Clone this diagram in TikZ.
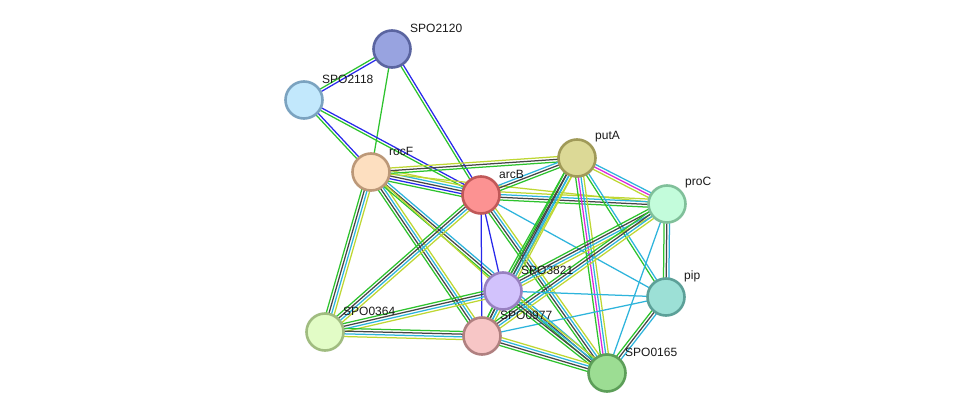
\documentclass[tikz,border=0pt]{standalone}
\usepackage{fontspec}
\setmainfont{Liberation Sans}
\usetikzlibrary{calc,backgrounds}
\definecolor{cG}{RGB}{45,195,45}
\definecolor{cB}{RGB}{40,40,235}
\definecolor{cD}{RGB}{70,70,70}
\definecolor{cM}{RGB}{220,40,220}
\definecolor{cC}{RGB}{45,180,220}
\definecolor{cY}{RGB}{190,215,50}
\tikzset{
  eG/.style={draw=cG,line width=1.25pt},
  eB/.style={draw=cB,line width=1.25pt},
  eD/.style={draw=cD,line width=1.25pt},
  eM/.style={draw=cM,line width=1.25pt},
  eC/.style={draw=cC,line width=1.25pt},
  eY/.style={draw=cY,line width=1.25pt},
  prot/.style={circle,minimum size=37pt,inner sep=0pt,line width=2.6pt},
  lab/.style={anchor=west,inner sep=0pt,font=\fontsize{12}{14}\selectfont,text=black!90}
}
\newcommand\sedge[3]{%
  \gdef\nn{0}%
  \foreach \cc in {#3}{\xdef\nn{\the\numexpr\nn+1\relax}}%
  \foreach \cc [count=\ii] in {#3}{%
    \pgfmathsetmacro\oo{(\ii-1-(\nn-1)/2)*2.7}%
    \draw[e\cc] ($(#1)!\oo pt!90:(#2)$) -- ($(#2)!\oo pt!-90:(#1)$);
  }}
\begin{document}
\begin{tikzpicture}[x=1pt,y=-1pt]
\useasboundingbox (0,0) rectangle (975,419);
\node[prot,fill={rgb,255:red,152;green,163;blue,224},draw={rgb,255:red,90;green,100;blue,160}] (SPO2120) at (392,49) {};
\node[prot,fill={rgb,255:red,194;green,232;blue,252},draw={rgb,255:red,123;green,163;blue,192}] (SPO2118) at (304,100) {};
\node[prot,fill={rgb,255:red,253;green,223;blue,192},draw={rgb,255:red,188;green,152;blue,120}] (rocF) at (371,172) {};
\node[prot,fill={rgb,255:red,252;green,146;blue,146},draw={rgb,255:red,192;green,88;blue,88}] (arcB) at (481,195) {};
\node[prot,fill={rgb,255:red,220;green,217;blue,150},draw={rgb,255:red,160;green,154;blue,88}] (putA) at (577,158) {};
\node[prot,fill={rgb,255:red,195;green,252;blue,219},draw={rgb,255:red,128;green,192;blue,154}] (proC) at (667,204) {};
\node[prot,fill={rgb,255:red,156;green,224;blue,214},draw={rgb,255:red,92;green,160;blue,152}] (pip) at (666,297) {};
\node[prot,fill={rgb,255:red,210;green,194;blue,252},draw={rgb,255:red,152;green,128;blue,192}] (SPO3821) at (503,291) {};
\node[prot,fill={rgb,255:red,247;green,198;blue,198},draw={rgb,255:red,176;green,128;blue,128}] (SPO0977) at (482,336) {};
\node[prot,fill={rgb,255:red,226;green,252;blue,198},draw={rgb,255:red,160;green,188;blue,128}] (SPO0364) at (325,332) {};
\node[prot,fill={rgb,255:red,156;green,221;blue,147},draw={rgb,255:red,92;green,158;blue,88}] (SPO0165) at (607,373) {};
\begin{pgfonlayer}{background}
\fill[white] (0,0) rectangle (975,419);
\sedge{SPO2120}{SPO2118}{G,B}
\sedge{SPO2120}{rocF}{G}
\sedge{SPO2120}{arcB}{G,B}
\sedge{SPO2118}{rocF}{G,B}
\sedge{SPO2118}{arcB}{G,B}
\sedge{rocF}{arcB}{G,B,D,C,Y}
\sedge{rocF}{putA}{G,D,Y}
\sedge{rocF}{proC}{Y}
\sedge{rocF}{SPO0364}{G,D,C,Y}
\sedge{rocF}{SPO0977}{G,D,C,Y}
\sedge{rocF}{SPO0165}{G,D,C}
\sedge{rocF}{SPO3821}{Y}
\sedge{arcB}{putA}{G,D,C}
\sedge{arcB}{proC}{G,D,C,Y}
\sedge{arcB}{pip}{C}
\sedge{arcB}{SPO3821}{B}
\sedge{arcB}{SPO0977}{B}
\sedge{arcB}{SPO0364}{G,D,C,Y}
\sedge{arcB}{SPO0165}{G,D,C,Y}
\sedge{putA}{proC}{Y,M,C}
\sedge{putA}{SPO3821}{G,D,C,Y}
\sedge{putA}{SPO0977}{G,D,C,Y}
\sedge{putA}{SPO0165}{G,M,C,Y}
\sedge{putA}{pip}{G,C}
\sedge{proC}{pip}{G,D,C}
\sedge{proC}{SPO3821}{G,D,C,Y}
\sedge{proC}{SPO0977}{G,D,C,Y}
\sedge{proC}{SPO0165}{C}
\sedge{pip}{SPO3821}{C}
\sedge{pip}{SPO0977}{C}
\sedge{pip}{SPO0165}{G,D,C}
\sedge{SPO3821}{SPO0364}{G,D,C,Y}
\sedge{SPO3821}{SPO0165}{G,D,C,Y}
\sedge{SPO0977}{SPO0364}{G,D,C,Y}
\sedge{SPO0977}{SPO0165}{G,D,C,Y}
\sedge{SPO3821}{SPO0977}{G,D,C}
\end{pgfonlayer}
\node[lab] (lSPO2120) at ($(SPO2120)+(18,-21)$) {SPO2120};
\node[lab] (lSPO2118) at ($(SPO2118)+(18,-21)$) {SPO2118};
\node[lab] (lrocF) at ($(rocF)+(18,-21)$) {rocF};
\node[lab] (larcB) at ($(arcB)+(18,-21)$) {arcB};
\node[lab] (lputA) at ($(putA)+(18,-21)$) {putA};
\node[lab] (lproC) at ($(proC)+(18,-21)$) {proC};
\node[lab] (lpip) at ($(pip)+(18,-21)$) {pip};
\node[lab] (lSPO3821) at ($(SPO3821)+(18,-21)$) {SPO3821};
\node[lab] (lSPO0977) at ($(SPO0977)+(18,-21)$) {SPO0977};
\node[lab] (lSPO0364) at ($(SPO0364)+(18,-21)$) {SPO0364};
\node[lab] (lSPO0165) at ($(SPO0165)+(18,-21)$) {SPO0165};
\end{tikzpicture}
\end{document}
